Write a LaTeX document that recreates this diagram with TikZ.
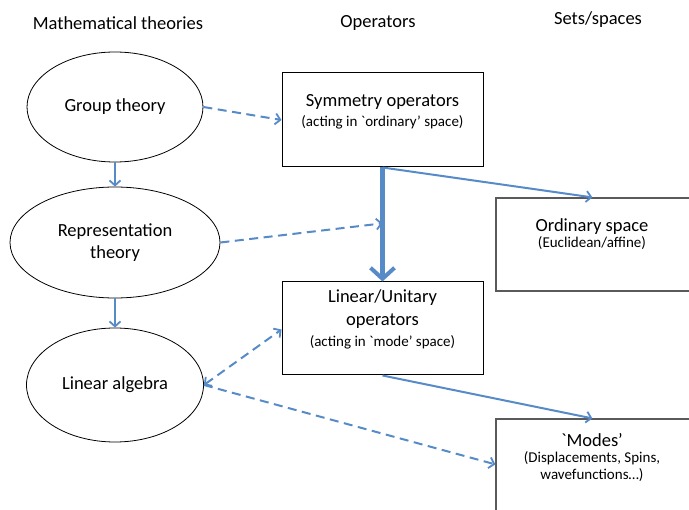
\documentclass[tikz,border=0pt]{standalone}
\usepackage{fontspec}
\setmainfont{Carlito}[Ligatures=TeXOff]
\usetikzlibrary{shapes.geometric,arrows.meta,calc}
\definecolor{arrblue}{RGB}{86,139,199}
\definecolor{boxgray}{RGB}{90,90,90}
\tikzset{
  hdr/.style={font=\fontsize{18.5}{22}\selectfont, anchor=center},
  ell/.style={ellipse, draw=black, line width=0.8pt, inner sep=0pt, font=\fontsize{18.5}{22.5}\selectfont},
  opbox/.style={draw=black, line width=1pt, inner sep=0pt},
  setbox/.style={draw=boxgray, line width=1.2pt, inner sep=0pt},
  big/.style={font=\fontsize{18.5}{22}\selectfont},
  small/.style={font=\fontsize{15}{17}\selectfont},
  solidarr/.style={draw=arrblue, line width=2pt, -{Straight Barb[length=5pt,width=11pt,line width=1.8pt]}},
  dasharr/.style={draw=arrblue, line width=2pt, dash pattern=on 9pt off 5.5pt, -{Straight Barb[length=5pt,width=11pt,line width=1.8pt]}},
  dashboth/.style={draw=arrblue, line width=2pt, dash pattern=on 9pt off 5.5pt, {Straight Barb[length=5pt,width=11pt,line width=1.8pt]}-{Straight Barb[length=5pt,width=11pt,line width=1.8pt]}},
  thickarr/.style={draw=arrblue, line width=4.5pt, -{Straight Barb[length=11pt,width=24pt,line width=4pt]}}
}
\begin{document}
\begin{tikzpicture}[x=1pt,y=-1pt]
\useasboundingbox (0,0) rectangle (689,510);
% headers
\node[hdr] (h1) at (118,23) {Mathematical theories};
\node[hdr] (h2) at (378,23) {Operators};
\node[hdr] (h3) at (598,20) {Sets/spaces};
% ellipses
\node[ell, minimum width=176pt, minimum height=110pt] (gt) at (115,107) {Group theory};
\node[ell, minimum width=210pt, minimum height=111pt, align=center] (rt) at (115,242.5) {Representation\\theory};
\node[ell, minimum width=177pt, minimum height=114pt] (la) at (115,385) {Linear algebra};
% operator boxes
\node[opbox, minimum width=201pt, minimum height=94pt] (sym) at (382.5,120) {};
\node[big] (symt) at (382.5,102) {Symmetry operators};
\node[small] (syms) at (382.5,122) {(acting in `ordinary’ space)};
\node[opbox, minimum width=201pt, minimum height=93pt] (lu) at (382.5,328.5) {};
\node[big] (lut1) at (382.5,298) {Linear/Unitary};
\node[big] (lut2) at (382.5,321) {operators};
\node[small] (lus) at (382.5,342) {(acting in `mode’ space)};
% set boxes
\node[setbox, minimum width=196pt, minimum height=93pt] (os) at (594,244.5) {};
\node[big] (ost) at (592,227) {Ordinary space};
\node[small] (oss) at (592,243) {(Euclidean/affine)};
\node[setbox, minimum width=196pt, minimum height=110pt] (md) at (594,474) {};
\node[big] (mdt) at (592,440) {`Modes’};
\node[small] (mds1) at (592,458) {(Displacements, Spins,};
\node[small] (mds2) at (592,475) {wavefunctions…)};
% helper coordinates
\coordinate (thk) at ($(sym.south)!0.49!(lu.north)$);
\coordinate (osin) at ($(os.north west)+(97,0)$);
\coordinate (mdin) at ($(md.north west)+(97,0)$);
\coordinate (mdw) at ($(md.north west)+(0,46)$);
\coordinate (luw) at ($(lu.north west)+(0,48)$);
% connectors
\draw[solidarr] (gt.south) -- (rt.north);
\draw[solidarr] (rt.south) -- (la.north);
\draw[dasharr] (gt.east) -- (sym.west);
\draw[dasharr] (rt.east) -- (thk);
\draw[thickarr] (sym.south) -- (lu.north);
\draw[solidarr] (sym.south) -- (osin);
\draw[dashboth] (la.east) -- (luw);
\draw[dasharr] (la.east) -- (mdw);
\draw[solidarr] (lu.south) -- (mdin);
\end{tikzpicture}
\end{document}
